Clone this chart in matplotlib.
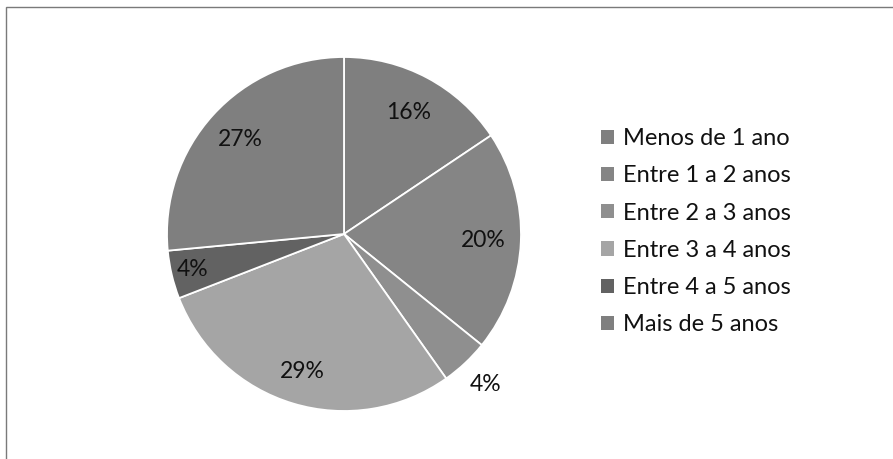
import matplotlib
matplotlib.use("Agg")
import matplotlib.pyplot as plt
import numpy as np
from matplotlib.patches import Rectangle

categories = ["Menos de 1 ano", "Entre 1 a 2 anos", "Entre 2 a 3 anos",
              "Entre 3 a 4 anos", "Entre 4 a 5 anos", "Mais de 5 anos"]
values = [15.6, 20.2, 4.4, 28.9, 4.4, 26.5]
pct_labels = ["16%", "20%", "4%", "29%", "4%", "27%"]

colors = ["#7f7f7f", "#858585", "#8f8f8f", "#a5a5a5", "#626262", "#7f7f7f"]
label_dist = [0.78, 0.79, 1.17, 0.81, 0.88, 0.79]

plt.rcParams['font.family'] = ['Lato', 'DejaVu Sans']

fig = plt.figure(figsize=(8.93, 4.59), dpi=100)
fig.patch.set_facecolor("white")

# outer border (top and left visible)
fig.add_artist(Rectangle((6 / 893, -0.1), 1.2, (459 - 7) / 459 + 0.1,
                         transform=fig.transFigure, fill=False,
                         edgecolor="#7a7a7a", linewidth=1.0))

cx, cy, r = 344, 234, 177
ax = fig.add_axes([(cx - r) / 893, (459 - cy - r) / 459, 2 * r / 893, 2 * r / 459])
wedges, _ = ax.pie(values, colors=colors, startangle=90, counterclock=False,
                   radius=1.0, wedgeprops=dict(edgecolor="white", linewidth=1.3))
ax.set_xlim(-1, 1)
ax.set_ylim(-1, 1)
ax.set_aspect("equal")
ax.axis("off")

for w, lab, d in zip(wedges, pct_labels, label_dist):
    ang = np.deg2rad((w.theta1 + w.theta2) / 2)
    ax.text(d * np.cos(ang), d * np.sin(ang), lab, ha="center", va="center",
            fontsize=16.5, color="#111111", clip_on=False)

leg = fig.legend(wedges, categories, loc="upper left",
                 bbox_to_anchor=(601 / 893, 1 - 128 / 459),
                 frameon=False, fontsize=17, handlelength=0.54, handleheight=0.54,
                 handletextpad=0.38, labelspacing=0.69, borderaxespad=0, borderpad=0)
for t in leg.get_texts():
    t.set_color("#111111")
for h in leg.legend_handles:
    h.set_edgecolor("none")

fig.savefig("out.png", dpi=100, facecolor="white")
